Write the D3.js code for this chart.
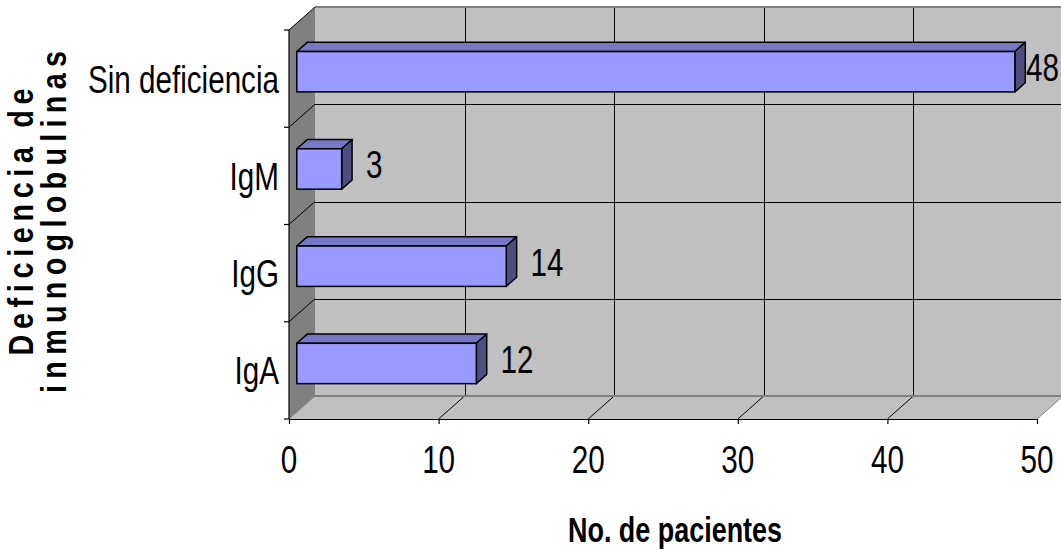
<!DOCTYPE html>
<html>
<head>
<meta charset="utf-8">
<script src="https://cdn.jsdelivr.net/npm/d3@7/dist/d3.min.js"></script>
<style>
  html, body { margin: 0; padding: 0; background: #fff; }
  svg { display: block; }
  text { font-family: "Liberation Sans", Arial, sans-serif; fill: #000; }
</style>
</head>
<body>
<svg id="chart" width="1061" height="553"></svg>
<script>
// Patients by immunoglobulin deficiency
const categories = ["Sin deficiencia", "IgM", "IgG", "IgA"];
const values = [48, 3, 14, 12];
const xTicks = [0, 10, 20, 30, 40, 50];
const xTitle = "No. de pacientes";
const yTitleLines = ["Deficiencia de", "inmunoglobulinas"];

const W = 1061, H = 553;
const svg = d3.select("#chart");

// 3D box: front plane and depth offset of the back wall
const DX = 26, DY = -23;
const x = d3.scaleLinear().domain([0, 50]).range([289, 1037]);
const y = d3.scaleBand().domain(categories).range([30, 419]);
const yTop = y.range()[0], yBot = y.range()[1];
const x0 = x(0), x1 = x(50);
const boundaries = categories.map(c => y(c)).concat([yBot]);

// text narrowed horizontally
const SX = 0.78;

const pts = a => a.map(p => p.join(",")).join(" ");

// walls
svg.append("polygon")
  .attr("points", pts([[x0 + DX, yTop + DY], [x1 + DX, yTop + DY], [x1 + DX, yBot + DY], [x0 + DX, yBot + DY]]))
  .attr("fill", "#C0C0C0");
svg.append("polygon")
  .attr("points", pts([[x0, yTop], [x0 + DX, yTop + DY], [x0 + DX, yBot + DY], [x0, yBot]]))
  .attr("fill", "#808080");
svg.append("polygon")
  .attr("points", pts([[x0, yBot], [x0 + DX, yBot + DY], [x1 + DX, yBot + DY], [x1, yBot]]))
  .attr("fill", "#C0C0C0");

const grid = svg.append("g");
// vertical gridlines on back wall
grid.selectAll("line.vg").data(xTicks.filter(t => t > 0 && t < 50)).join("line")
  .attr("x1", d => Math.round(x(d) + DX) + 0.5).attr("x2", d => Math.round(x(d) + DX) + 0.5)
  .attr("y1", yTop + DY).attr("y2", yBot + DY)
  .attr("stroke", "#000").attr("stroke-width", 1);
// floor diagonals
grid.selectAll("line.fd").data(xTicks.filter(t => t > 0 && t < 50)).join("line")
  .attr("x1", d => x(d) + DX).attr("y1", yBot + DY)
  .attr("x2", d => x(d)).attr("y2", yBot)
  .attr("stroke", "#000").attr("stroke-width", 1);
// floor edges left and right
grid.selectAll("line.fe").data([0, 50]).join("line")
  .attr("x1", d => x(d) + DX).attr("y1", yBot + DY)
  .attr("x2", d => x(d)).attr("y2", yBot)
  .attr("stroke", "#808080").attr("stroke-width", 1);
// horizontal gridlines on back wall
grid.selectAll("line.hg").data(boundaries.slice(1, -1)).join("line")
  .attr("x1", x0 + DX).attr("x2", x1 + DX)
  .attr("y1", d => Math.round(d + DY) + 0.5).attr("y2", d => Math.round(d + DY) + 0.5)
  .attr("stroke", "#000").attr("stroke-width", 1);
// left wall diagonals
grid.selectAll("line.lg").data(boundaries.slice(0, -1)).join("line")
  .attr("x1", x0).attr("y1", d => d)
  .attr("x2", x0 + DX).attr("y2", d => d + DY)
  .attr("stroke", "#000").attr("stroke-width", 1);
// top and bottom edges of back wall
grid.append("line").attr("x1", x0 + DX).attr("x2", x1 + DX)
  .attr("y1", yTop + DY).attr("y2", yTop + DY)
  .attr("stroke", "#808080").attr("stroke-width", 2);
grid.append("line").attr("x1", x0 + DX).attr("x2", x1 + DX)
  .attr("y1", yBot + DY).attr("y2", yBot + DY)
  .attr("stroke", "#808080").attr("stroke-width", 2);

// axes
const xAxis = svg.append("g").attr("transform", `translate(0,${yBot})`)
  .call(d3.axisBottom(x).tickValues(xTicks).tickSize(5).tickSizeOuter(0).tickFormat(""));
xAxis.selectAll("path, line").attr("stroke", "#000").attr("stroke-width", 1.2);

const yAxisG = svg.append("g").attr("transform", `translate(${x0},0)`);
yAxisG.append("line").attr("x1", 0).attr("x2", 0).attr("y1", yTop).attr("y2", yBot)
  .attr("stroke", "#000").attr("stroke-width", 1.2);
yAxisG.selectAll("line.t").data(boundaries).join("line")
  .attr("x1", -5).attr("x2", 0).attr("y1", d => d).attr("y2", d => d)
  .attr("stroke", "#000").attr("stroke-width", 1.2);

// tick labels
svg.append("g").selectAll("text").data(xTicks).join("text")
  .attr("transform", d => `translate(${x(d)},473) scale(${SX},1)`)
  .attr("text-anchor", "middle")
  .attr("font-size", 38)
  .text(d => d);

svg.append("g").selectAll("text").data(categories).join("text")
  .attr("transform", d => `translate(279,${y(d) + y.bandwidth() / 2 + 14}) scale(${SX},1)`)
  .attr("text-anchor", "end")
  .attr("font-size", 38)
  .text(d => d);

// bars: front face sits at 30% depth, bar depth spans 40%
const t0 = 0.3, td = 0.4;
const bdx = DX * td, bdy = DY * td;
const bh = y.bandwidth() * 0.415;
const data = categories.map((c, i) => ({ c, v: values[i] }));
const bars = svg.append("g").selectAll("g").data(data).join("g");
bars.each(function(d) {
  const g = d3.select(this);
  const xs = x(0) + DX * t0, xe = x(d.v) + DX * t0;
  const cy = y(d.c) + y.bandwidth() / 2 + DY * t0;
  const ya = cy - bh / 2, yb = cy + bh / 2;
  g.append("polygon")
    .attr("points", pts([[xs, ya], [xs + bdx, ya + bdy], [xe + bdx, ya + bdy], [xe, ya]]))
    .attr("fill", "#7777C7").attr("stroke", "#000").attr("stroke-width", 1.5).attr("stroke-linejoin", "round");
  g.append("polygon")
    .attr("points", pts([[xe, ya], [xe + bdx, ya + bdy], [xe + bdx, yb + bdy], [xe, yb]]))
    .attr("fill", "#4D4D80").attr("stroke", "#000").attr("stroke-width", 1.5).attr("stroke-linejoin", "round");
  g.append("rect")
    .attr("x", xs).attr("y", ya).attr("width", xe - xs).attr("height", bh)
    .attr("fill", "#9999FF").attr("stroke", "#000").attr("stroke-width", 1.5);
});

// value labels
const vl = svg.append("g").selectAll("text").data(data).join("text")
  .attr("font-size", 38)
  .text(d => d.v);
vl.each(function(d) {
  const w = this.getComputedTextLength() * SX;
  let lx = x(d.v) + DX * 0.5 + 19;
  lx = Math.min(lx, W - 2 - w);
  const ly = y(d.c) + y.bandwidth() / 2 + DY * 0.5 + 14;
  d3.select(this).attr("transform", `translate(${lx},${ly}) scale(${SX},1)`);
});

// axis titles
svg.append("text")
  .attr("transform", `translate(675,542) scale(0.77,1)`)
  .attr("text-anchor", "middle")
  .attr("font-size", 35).attr("font-weight", "bold")
  .text(xTitle);

const yt = svg.append("g");
yt.selectAll("text").data(yTitleLines).join("text")
  .attr("transform", (d, i) => `translate(${i === 0 ? 33 : 66},222) rotate(-90) scale(0.8,1)`)
  .attr("text-anchor", "middle")
  .attr("font-size", 36).attr("font-weight", "bold")
  .attr("textLength", (d, i) => (i === 0 ? 267 : 342) / 0.8)
  .attr("lengthAdjust", "spacing")
  .text(d => d);
</script>
</body>
</html>
